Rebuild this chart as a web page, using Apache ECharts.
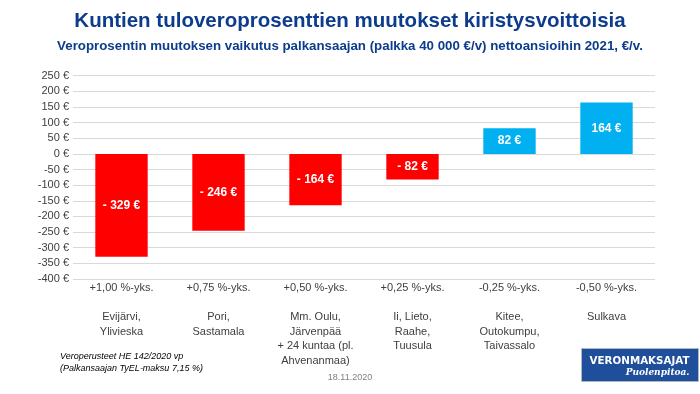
<!DOCTYPE html>
<html><head><meta charset="utf-8">
<script src="https://cdn.jsdelivr.net/npm/echarts@6/dist/echarts.min.js"></script>
<style>html,body{margin:0;padding:0;background:#fff}#c{width:700px;height:394px}</style>
</head><body><div id="c"></div>
<script>
const changes = ['+1,00 %-yks.', '+0,75 %-yks.', '+0,50 %-yks.', '+0,25 %-yks.', '-0,25 %-yks.', '-0,50 %-yks.'];
const municipalities = ['Evijärvi,\nYlivieska', 'Pori,\nSastamala', 'Mm. Oulu,\nJärvenpää\n+ 24 kuntaa (pl.\nAhvenanmaa)', 'Ii, Lieto,\nRaahe,\nTuusula', 'Kitee,\nOutokumpu,\nTaivassalo', 'Sulkava'];
const values = [-329, -246, -164, -82, 82, 164];
const yTicks = {min: -400, max: 250, interval: 50};

const categories = changes.map((c, i) => c + '\n\n' + municipalities[i]);
const chart = echarts.init(document.getElementById('c'), null, {renderer: 'canvas'});
const F = 'Liberation Sans, Arial, sans-serif';
chart.setOption({
  animation: false,
  title: [{
    text: 'Kuntien tuloveroprosenttien muutokset kiristysvoittoisia',
    left: 'center', top: 6,
    textStyle: {fontFamily: F, fontSize: 20.5, fontWeight: 'bold', color: '#0D3C8C'}
  }, {
    text: 'Veroprosentin muutoksen vaikutus palkansaajan (palkka 40 000 €/v) nettoansioihin 2021, €/v.',
    left: 'center', top: 35,
    textStyle: {fontFamily: F, fontSize: 13.3, fontWeight: 'bold', color: '#0D3C8C'}
  }],
  grid: {left: 73, right: 45, top: 75.7, height: 203.3},
  xAxis: {
    type: 'category', data: categories, position: 'bottom',
    axisLine: {show: false}, axisTick: {show: false},
    axisLabel: {
      interval: 0, margin: 2, color: '#404040', fontFamily: F, fontSize: 11, lineHeight: 14.5,
      verticalAlign: 'top'
    }
  },
  yAxis: {
    type: 'value', min: yTicks.min, max: yTicks.max, interval: yTicks.interval,
    axisLabel: {formatter: v => v + ' €', color: '#404040', fontFamily: F, fontSize: 11, margin: 4},
    splitLine: {lineStyle: {color: '#D9D9D9', width: 1}},
    axisLine: {show: false}, axisTick: {show: false}
  },
  series: [{
    type: 'bar', barWidth: '54%',
    data: values.map(v => ({value: v, itemStyle: {color: v < 0 ? '#FF0000' : '#00B0F0'}})),
    label: {
      show: true, position: 'inside', color: '#fff', fontFamily: F, fontWeight: 'bold', fontSize: 12,
      formatter: p => (p.value < 0 ? '- ' + (-p.value) : p.value) + ' €'
    }
  }],
  graphic: [
    {type: 'text', left: 60, top: 350, style: {text: 'Veroperusteet HE 142/2020 vp\n(Palkansaajan TyEL-maksu 7,15 %)', font: 'italic 9px Liberation Sans, Arial, sans-serif', fill: '#000', lineHeight: 12.5}},
    {type: 'text', left: 'center', top: 373, style: {text: '18.11.2020', font: '9px Liberation Sans, Arial, sans-serif', fill: '#7F7F7F'}},
    {type: 'group', left: 581, top: 348, children: [
      {type: 'rect', shape: {x: 0, y: 0, width: 117, height: 33}, style: {fill: '#1F4E9A', stroke: '#B0B8C8', lineWidth: 1}},
      {type: 'text', x: 108, y: 8, style: {text: 'VERONMAKSAJAT', font: 'bold 10.3px DejaVu Sans, sans-serif', fill: '#fff', textAlign: 'right'}},
      {type: 'text', x: 108, y: 20, style: {text: 'Puolenpitoa.', font: 'italic bold 9px DejaVu Serif, serif', fill: '#fff', textAlign: 'right'}}
    ]}
  ]
});
</script></body></html>
